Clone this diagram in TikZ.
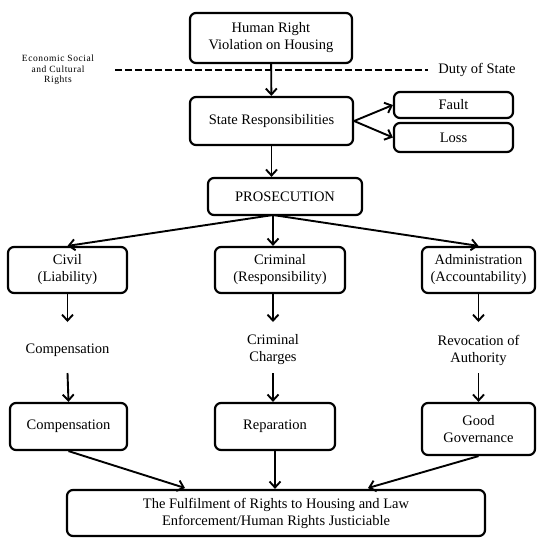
\documentclass[tikz,border=0pt]{standalone}
\usepackage{fontspec}
\setmainfont{Liberation Serif}
\usetikzlibrary{arrows.meta}
\begin{document}
\begin{tikzpicture}[x=1pt,y=-1pt,
  box/.style={draw, line width=2.2pt, rounded corners=6pt, align=center,
    font=\fontsize{14.5}{17}\selectfont, inner sep=0pt},
  lbl/.style={align=center, font=\fontsize{14.5}{17}\selectfont, inner sep=0pt},
  arr/.style={line width=1.9pt, -{Straight Barb[length=6pt,width=11pt,line width=1.9pt]}}]
\useasboundingbox (0,0) rectangle (537,539);

% boxes
\node[box, minimum width=162pt, minimum height=50pt] (top) at (271,38) {Human Right\\Violation on Housing};
\node[box, minimum width=163pt, minimum height=48pt] (state) at (271.5,121) {State Responsibilities};
\node[box, minimum width=119pt, minimum height=26pt] (fault) at (453.5,105) {Fault};
\node[box, minimum width=119pt, minimum height=29pt] (loss) at (453.5,137.5) {Loss};
\node[box, minimum width=154pt, minimum height=37pt] (pros) at (285,196.5) {PROSECUTION};
\node[box, minimum width=119pt, minimum height=46pt] (civil) at (67.5,270) {Civil\\(Liability)};
\node[box, minimum width=130pt, minimum height=46pt] (crim) at (280,270) {Criminal\\(Responsibility)};
\node[box, minimum width=113pt, minimum height=46pt] (admin) at (478.5,270) {Administration\\(Accountability)};
\node[box, minimum width=117pt, minimum height=47pt] (compb) at (68.5,426.5) {Compensation};
\node[box, minimum width=120pt, minimum height=47pt] (rep) at (275,426.5) {Reparation};
\node[box, minimum width=113pt, minimum height=52pt] (good) at (478.5,429) {Good\\Governance};
\node[box, minimum width=418pt, minimum height=46pt] (final) at (276,513) {The Fulfilment of Rights to Housing and Law\\Enforcement/Human Rights Justiciable};

% plain labels
\node[lbl] (compt) at (67.5,350) {Compensation};
\node[lbl] (charges) at (273,350) {Criminal\\Charges};
\node[lbl] (revoc) at (478.5,350) {Revocation of\\Authority};
\node[lbl] (duty) at (477,70) {Duty of State};
\node[align=center, inner sep=0pt, font=\fontsize{9.5}{10.5}\selectfont\addfontfeatures{LetterSpace=6}] (esc) at (58,70) {Economic Social\\and Cultural\\Rights};

% dashed line
\coordinate (dl) at (115,70);
\coordinate (dr) at (428,70);
\draw[line width=2.2pt, dash pattern=on 6.5pt off 3.5pt] (dl) -- (dr);

% connector end points
\coordinate (ps) at (273,215);
\coordinate (c1) at (67.5,322);
\coordinate (c2) at (67.5,373);
\coordinate (k1) at (273,322);
\coordinate (k2) at (273,373);
\coordinate (r1) at (478.5,322);
\coordinate (r2) at (478.5,373);
\coordinate (f1) at (185,488);
\coordinate (f3) at (368,488);

% connectors
\draw[arr] (top) -- (state);
\draw[arr] (state.east) -- (fault.west);
\draw[arr] (state.east) -- (loss.west);
\draw[arr] (state.south) -- (state.south |- pros.north);
\draw[arr] (ps) -- (civil.north);
\draw[arr] (ps) -- (ps |- crim.north);
\draw[arr] (ps) -- (admin.north);
\draw[arr] (civil.south) -- (c1);
\draw[arr] (c2) -- (compb.north);
\draw[arr] (ps |- crim.south) -- (k1);
\draw[arr] (k2) -- (k2 |- rep.north);
\draw[arr] (admin.south) -- (r1);
\draw[arr] (r2) -- (good.north);
\draw[arr] (compb.south) -- (f1);
\draw[arr] (rep.south) -- (rep.south |- final.north);
\draw[arr] (good.south) -- (f3);
\end{tikzpicture}
\end{document}
